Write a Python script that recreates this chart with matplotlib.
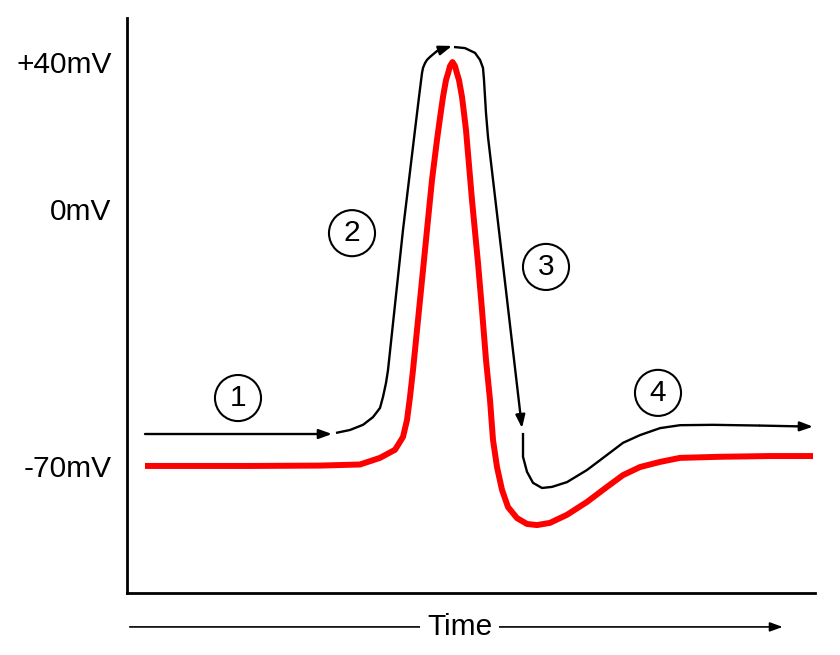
#!/usr/bin/env python3

import matplotlib
matplotlib.use("Agg")
import matplotlib.pyplot as plt

# action potential, time in ms (arbitrary), membrane potential in mV

# red trace: membrane potential
t_red = [0.18, 1.23, 1.93, 2.33, 2.53, 2.68, 2.76, 2.80, 2.83, 2.86, 2.90, 2.95,
         3.00, 3.05, 3.10, 3.13, 3.16, 3.19, 3.21, 3.23, 3.255, 3.28, 3.30, 3.32,
         3.35, 3.37, 3.39, 3.45, 3.51, 3.55, 3.59, 3.63, 3.66, 3.70, 3.75, 3.81,
         3.90, 4.00, 4.10, 4.23, 4.40, 4.60, 4.80, 4.96, 5.13, 5.33, 5.53, 5.93,
         6.43, 6.86]
v_red = [-70.0, -70.0, -69.9, -69.6, -67.8, -65.6, -62.1, -57.5, -51.2, -43.9, -33.0, -19.4,
         -5.7, 7.9, 18.8, 24.8, 30.5, 35.1, 36.9, 38.9, 40.0, 38.9, 36.9, 35.1,
         30.5, 26.1, 21.5, 2.4, -14.7, -27.5, -41.1, -52.0, -62.9, -70.3, -76.5, -81.2,
         -84.2, -85.8, -86.1, -85.5, -83.3, -79.8, -75.7, -72.5, -70.3, -68.9, -67.8, -67.5,
         -67.3, -67.3]

# black arrows following the phases
t_ph1 = [0.18, 2.05]
v_ph1 = [-61.3, -61.3]

t_ph2 = [2.09, 2.23, 2.36, 2.46, 2.53, 2.56, 2.59, 2.61, 2.76, 2.88, 2.92, 2.95,
         2.96, 2.98, 3.00, 3.03, 3.10, 3.25]
v_ph2 = [-61.0, -60.2, -58.8, -56.7, -54.2, -51.2, -47.4, -43.9, -5.7, 21.5, 30.5, 37.0,
         38.4, 39.7, 40.6, 41.4, 43.0, 44.4]

t_ph3 = [3.27, 3.38, 3.48, 3.53, 3.56, 3.57, 3.59, 3.61, 3.78, 3.95]
v_ph3 = [44.1, 43.8, 42.5, 40.6, 38.4, 35.1, 26.1, 19.6, -19.9, -59.7]

t_ph4 = [3.96, 3.96, 4.00, 4.06, 4.15, 4.25, 4.40, 4.60, 4.80, 4.96, 5.13, 5.33,
         5.53, 5.86, 6.33, 6.86]
v_ph4 = [-61.0, -67.5, -71.6, -74.6, -76.0, -75.7, -74.4, -71.1, -67.0, -63.7, -61.6, -59.7,
         -58.9, -58.8, -59.0, -59.3]

# circled phase numbers
lab_t = [1.11, 2.25, 4.19, 5.31]
lab_v = [-51.5, -6.6, -15.8, -50.1]
lab_txt = ["1", "2", "3", "4"]

ytick_vals = [40, 0, -70]
ytick_labels = ["+40mV", "0mV", "-70mV"]

FONT = "Liberation Sans"
FS = 21.5


def arrow_line(ax, ts, vs):
  # line up to the last-but-one point, arrowhead on the last segment
  if len(ts) > 2:
    ax.plot(ts[:-1], vs[:-1], color="black", lw=1.7, solid_capstyle="butt",
            solid_joinstyle="round")
  ax.annotate("", xy=(ts[-1], vs[-1]), xytext=(ts[-2], vs[-2]),
              arrowprops=dict(arrowstyle="-|>,head_length=0.55,head_width=0.2",
                              color="black", lw=1.7, mutation_scale=14,
                              shrinkA=0, shrinkB=0))


def main():
  fig = plt.figure(figsize=(8.4, 6.55), dpi=100)
  ax = fig.add_axes([127/840, 1 - 593/655, 688/840, 575/655])

  ax.plot(t_red, v_red, color="#ff0000", lw=4.3, solid_capstyle="butt",
          solid_joinstyle="round")

  for ts, vs in [(t_ph1, v_ph1), (t_ph2, v_ph2), (t_ph3, v_ph3), (t_ph4, v_ph4)]:
    arrow_line(ax, ts, vs)

  ax.scatter(lab_t, lab_v, s=1100, facecolors="none", edgecolors="black",
             linewidths=1.5, zorder=3)
  for t, v, s in zip(lab_t, lab_v, lab_txt):
    ax.text(t, v, s, ha="center", va="center", fontsize=FS, family=FONT)

  ax.set_xlim(0, 6.88)
  ax.set_ylim(-104.6, 52.0)
  ax.set_xticks([])
  ax.set_yticks(ytick_vals)
  ax.set_yticklabels(ytick_labels, fontsize=FS, family=FONT)
  ax.tick_params(axis="y", length=0, pad=11)

  for side in ["top", "right"]:
    ax.spines[side].set_visible(False)
  for side in ["left", "bottom"]:
    ax.spines[side].set_linewidth(2.0)

  # time arrow below the axis
  ax.annotate("", xy=(0.953, -0.059), xytext=(0.004, -0.059),
              xycoords="axes fraction", textcoords="axes fraction",
              annotation_clip=False,
              arrowprops=dict(arrowstyle="-|>,head_length=0.55,head_width=0.2",
                              color="black", lw=1.2, mutation_scale=14,
                              shrinkA=0, shrinkB=0))
  ax.text(0.484, -0.059, "Time", transform=ax.transAxes, ha="center", va="center",
          fontsize=FS, family=FONT,
          bbox=dict(facecolor="white", edgecolor="none", pad=5))

  fig.savefig("out.png", dpi=100)


if __name__ == '__main__':
  main()
